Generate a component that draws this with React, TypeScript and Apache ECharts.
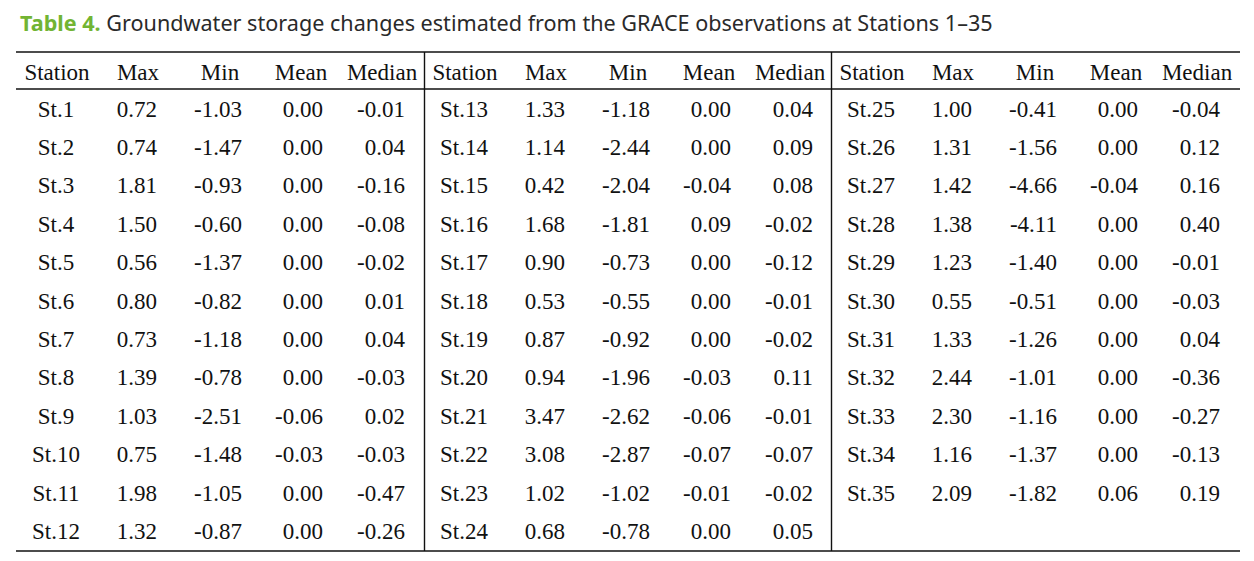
import React, { useEffect, useRef } from "react";
import * as echarts from "echarts";

const titleLabel = "Table 4.";
const titleText = "Groundwater storage changes estimated from the GRACE observations at Stations 1–35";
const headers = ["Station", "Max", "Min", "Mean", "Median"];
const stations = Array.from({ length: 35 }, (_, i) => `St.${i + 1}`);
const maxVals = [
  0.72, 0.74, 1.81, 1.5, 0.56, 0.8, 0.73, 1.39, 1.03, 0.75, 1.98, 1.32,
  1.33, 1.14, 0.42, 1.68, 0.9, 0.53, 0.87, 0.94, 3.47, 3.08, 1.02, 0.68,
  1.0, 1.31, 1.42, 1.38, 1.23, 0.55, 1.33, 2.44, 2.3, 1.16, 2.09,
];
const minVals = [
  -1.03, -1.47, -0.93, -0.6, -1.37, -0.82, -1.18, -0.78, -2.51, -1.48, -1.05, -0.87,
  -1.18, -2.44, -2.04, -1.81, -0.73, -0.55, -0.92, -1.96, -2.62, -2.87, -1.02, -0.78,
  -0.41, -1.56, -4.66, -4.11, -1.4, -0.51, -1.26, -1.01, -1.16, -1.37, -1.82,
];
const meanVals = [
  0.0, 0.0, 0.0, 0.0, 0.0, 0.0, 0.0, 0.0, -0.06, -0.03, 0.0, 0.0,
  0.0, 0.0, -0.04, 0.09, 0.0, 0.0, 0.0, -0.03, -0.06, -0.07, -0.01, 0.0,
  0.0, 0.0, -0.04, 0.0, 0.0, 0.0, 0.0, 0.0, 0.0, 0.0, 0.06,
];
const medianVals = [
  -0.01, 0.04, -0.16, -0.08, -0.02, 0.01, 0.04, -0.03, 0.02, -0.03, -0.47, -0.26,
  0.04, 0.09, 0.08, -0.02, -0.12, -0.01, -0.02, 0.11, -0.01, -0.07, -0.02, 0.05,
  -0.04, 0.12, 0.16, 0.4, -0.01, -0.03, 0.04, -0.36, -0.27, -0.13, 0.19,
];

export default function App() {
  const ref = useRef<HTMLDivElement>(null);
  useEffect(() => {
    if (!ref.current) return;
    const chart = echarts.init(ref.current, undefined, { renderer: "svg" });
    const FONT = '23px "Liberation Serif", "Times New Roman", serif';
    const INK = "#111";
    const blockOffsets = [0, 408, 815];
    const headerCenters = [57, 138, 220, 301, 382];
    const stationCenter = 56;
    const numRight = [157, 242, 323, 405];
    const headerY = 72;
    const rowY0 = 109;
    const rowH = 38.4;
    const rowsPerBlock = 12;
    const tableLeft = 16;
    const tableRight = 1240;
    const topLine = 52;
    const headLine = 89;
    const bottomLine = 551;
    const vLines = [424.5, 831.5];

    const els: any[] = [];
    els.push({
      type: "text",
      x: 20,
      y: 22,
      style: {
        text: `{a|${titleLabel}} ${titleText}`,
        font: '21.6px "Noto Sans", sans-serif',
        fill: "#2a2a2a",
        verticalAlign: "middle",
        rich: {
          a: { font: 'bold 21.6px "Noto Sans", sans-serif', fill: "#72b433" },
        },
      },
    });
    const line = (x1: number, y1: number, x2: number, y2: number) => ({
      type: "line",
      shape: { x1, y1, x2, y2 },
      style: { stroke: "#111", lineWidth: 1.4 },
    });
    els.push(line(tableLeft, topLine, tableRight, topLine));
    els.push(line(tableLeft, headLine, tableRight, headLine));
    els.push(line(tableLeft, bottomLine, tableRight, bottomLine));
    vLines.forEach((vx) => els.push(line(vx, topLine, vx, bottomLine)));

    const txt = (text: string, x: number, y: number, align: string) => ({
      type: "text",
      x,
      y,
      style: { text, font: FONT, fill: INK, align, verticalAlign: "middle" },
    });

    blockOffsets.forEach((off) => {
      headers.forEach((h, j) => els.push(txt(h, headerCenters[j] + off, headerY, "center")));
    });

    stations.forEach((st, i) => {
      const b = Math.floor(i / rowsPerBlock);
      const r = i % rowsPerBlock;
      const off = blockOffsets[b];
      const y = rowY0 + r * rowH;
      els.push(txt(st, stationCenter + off, y, "center"));
      [maxVals[i], minVals[i], meanVals[i], medianVals[i]].forEach((v, k) => {
        els.push(txt(v.toFixed(2), numRight[k] + off, y, "right"));
      });
    });

    chart.setOption({
      animation: false,
      backgroundColor: "#fff",
      graphic: { elements: els },
    });
    return () => chart.dispose();
  }, []);
  return (
    <div
      ref={ref}
      style={{ position: "absolute", left: 0, top: 0, width: 1254, height: 561 }}
    />
  );
}
